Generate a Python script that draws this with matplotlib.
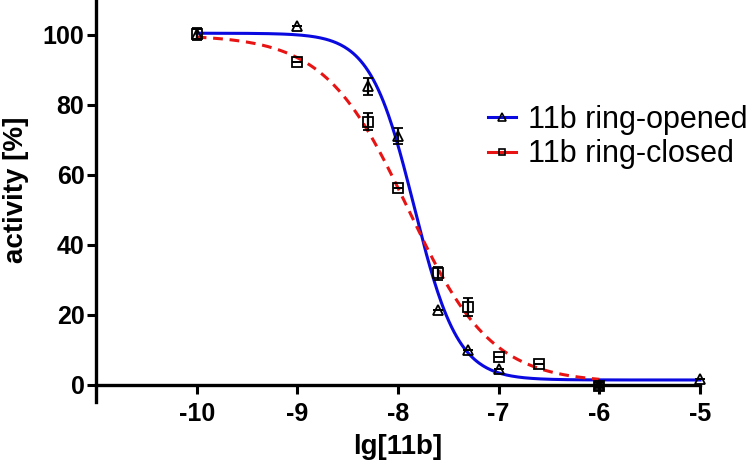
import numpy as np
import matplotlib; matplotlib.use('Agg')
import matplotlib.pyplot as plt

plt.rcParams['font.family'] = ['Liberation Sans', 'DejaVu Sans']
plt.rcParams['axes.unicode_minus'] = False

# ---- data ----
x_open = [-10, -9, -8.3, -8, -7.6, -7.3, -7, -6, -5]
y_open = [100.4, 102.6, 85.3, 71.0, 21.2, 9.8, 4.3, 0.0, 1.6]
e_open = [1.5, 0, 2.4, 2.3, 0, 0, 0, 0.8, 0]

x_closed = [-10, -9, -8.3, -8, -7.6, -7.3, -7, -6.6, -6]
y_closed = [100.2, 92.2, 75.2, 56.1, 31.8, 22.2, 7.8, 5.8, -0.3]
e_closed = [1.6, 0, 2.4, 0, 1.8, 2.6, 0, 0, 0.6]

# 4PL fit parameters (top, bottom, logIC50, hill)
fit_open = (100.5, 1.3, -7.84, 2.0)
fit_closed = (100.0, 0.5, -7.90, 1.05)

BLUE = "#0a0ae0"; RED = "#e81414"

def fourpl(x, top, bottom, c, h):
    return bottom + (top - bottom) / (1 + 10 ** ((x - c) * h))

fig = plt.figure(figsize=(7.55, 4.69), dpi=100)
ax = fig.add_axes([96/755, 1-402/469, 604/755, 402/469])

xo = np.linspace(min(x_open), max(x_open), 400)
xc = np.linspace(min(x_closed), max(x_closed), 400)
ax.plot(xo, fourpl(xo, *fit_open), color=BLUE, lw=2.2, zorder=2, clip_on=False)
ax.plot(xc, fourpl(xc, *fit_closed), color=RED, lw=2.2, ls=(0, (3.2, 2.2)), zorder=3, clip_on=False)

ax.errorbar(x_open, y_open, yerr=e_open, fmt='^', ms=7.5, mfc='none', mec='black', mew=1.3,
            ecolor='black', elinewidth=1.6, capsize=3.5, capthick=1.6, zorder=4, clip_on=False)
ax.errorbar(x_closed, y_closed, yerr=e_closed, fmt='s', ms=6.5, mfc='none', mec='black', mew=1.3,
            ecolor='black', elinewidth=1.6, capsize=3.5, capthick=1.6, zorder=4, clip_on=False)

# legend proxies
h1, = ax.plot([], [], color=BLUE, lw=2.2, marker='^', ms=5.5, mfc='none', mec='black', mew=1.2)
h2, = ax.plot([], [], color=RED, lw=2.2, marker='s', ms=5, mfc='none', mec='black', mew=1.2)
ax.legend([h1, h2], ["11b ring-opened", "11b ring-closed"], loc='upper left',
          bbox_to_anchor=(0.629, 0.770), frameon=False, fontsize=22, handlelength=0.9,
          handletextpad=0.42, labelspacing=0.15, borderaxespad=0)

ax.set_xlim(-11, -5)
ax.set_ylim(-5, 110)
ax.set_xticks([-10, -9, -8, -7, -6, -5])
ax.set_yticks([0, 20, 40, 60, 80, 100])
ax.spines['top'].set_visible(False)
ax.spines['right'].set_visible(False)
ax.spines['bottom'].set_position(('data', 0))
for s in ('left', 'bottom'):
    ax.spines[s].set_linewidth(2.4)
ax.tick_params(width=2.2, length=6.3, labelsize=18, pad=2)
for lab in ax.get_xticklabels() + ax.get_yticklabels():
    lab.set_fontweight('bold')
ax.xaxis.set_tick_params(pad=6)

fig.text(16/755, 1-190/469, "activity [%]", fontsize=20, fontweight='bold',
         rotation=90, ha='center', va='center')
fig.text(398/755, 1-447/469, "lg[11b]", fontsize=20, fontweight='bold', ha='center', va='center')

fig.savefig("out.png", dpi=100)
